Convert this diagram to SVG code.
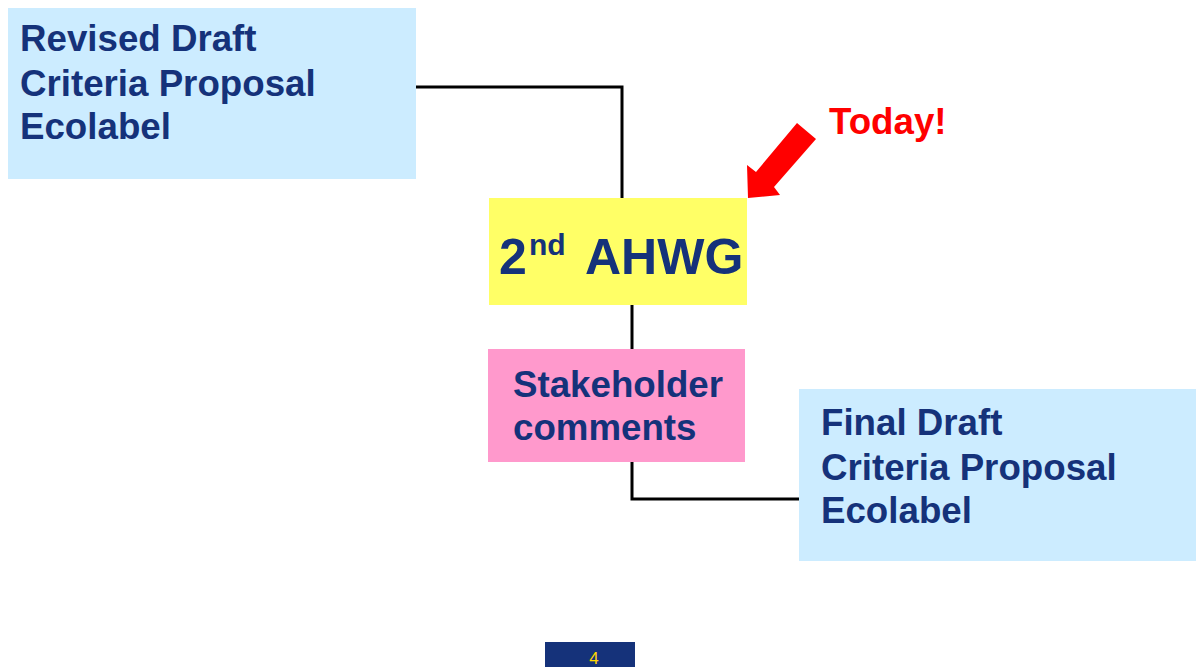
<svg xmlns="http://www.w3.org/2000/svg" width="1196" height="667" viewBox="0 0 1196 667">
<style>
.lbl{font-family:"Liberation Sans",Arial,sans-serif;font-weight:bold;font-size:36.7px;fill:#15327A}
.blue{fill:#CCECFF}
.conn{fill:none;stroke:#000;stroke-width:3}
</style>
<rect width="1196" height="667" fill="#fff"/>
<g id="connectors">
<polyline class="conn" points="416,87 622,87 622,198"/>
<line class="conn" x1="632" y1="305" x2="632" y2="349"/>
<polyline class="conn" points="632,462 632,499 799,499"/>
</g>
<g id="revised">
<rect class="blue" x="8" y="8" width="408" height="171"/>
<text class="lbl" x="20" y="51">Revised Draft</text>
<text class="lbl" x="20" y="96">Criteria Proposal</text>
<text class="lbl" x="20" y="139">Ecolabel</text>
</g>
<g id="ahwg">
<rect x="489" y="198" width="258" height="107" fill="#FFFF66"/>
<text class="lbl" x="499" y="274" style="font-size:50px">2<tspan x="529" dy="-19" style="font-size:30px">nd</tspan><tspan x="585" dy="19">AHWG</tspan></text>
</g>
<g id="stakeholder">
<rect x="488" y="349" width="257" height="113" fill="#FF99CC"/>
<text class="lbl" x="513" y="397">Stakeholder</text>
<text class="lbl" x="513" y="440">comments</text>
</g>
<g id="final">
<rect class="blue" x="799" y="389" width="397" height="172"/>
<text class="lbl" x="821" y="435">Final Draft</text>
<text class="lbl" x="821" y="480">Criteria Proposal</text>
<text class="lbl" x="821" y="523">Ecolabel</text>
</g>
<g id="today">
<polygon points="797,123 816,139 774,187 780,195 748,198 747,165 756,172" fill="#FF0000"/>
<text class="lbl" x="829" y="134" style="fill:#FF0000">Today!</text>
</g>
<g id="page">
<rect x="545" y="642" width="90" height="25" fill="#15327A"/>
<text x="594" y="664" text-anchor="middle" style="font-family:'Liberation Sans',Arial,sans-serif;font-size:17px;fill:#FFD700">4</text>
</g>
</svg>
